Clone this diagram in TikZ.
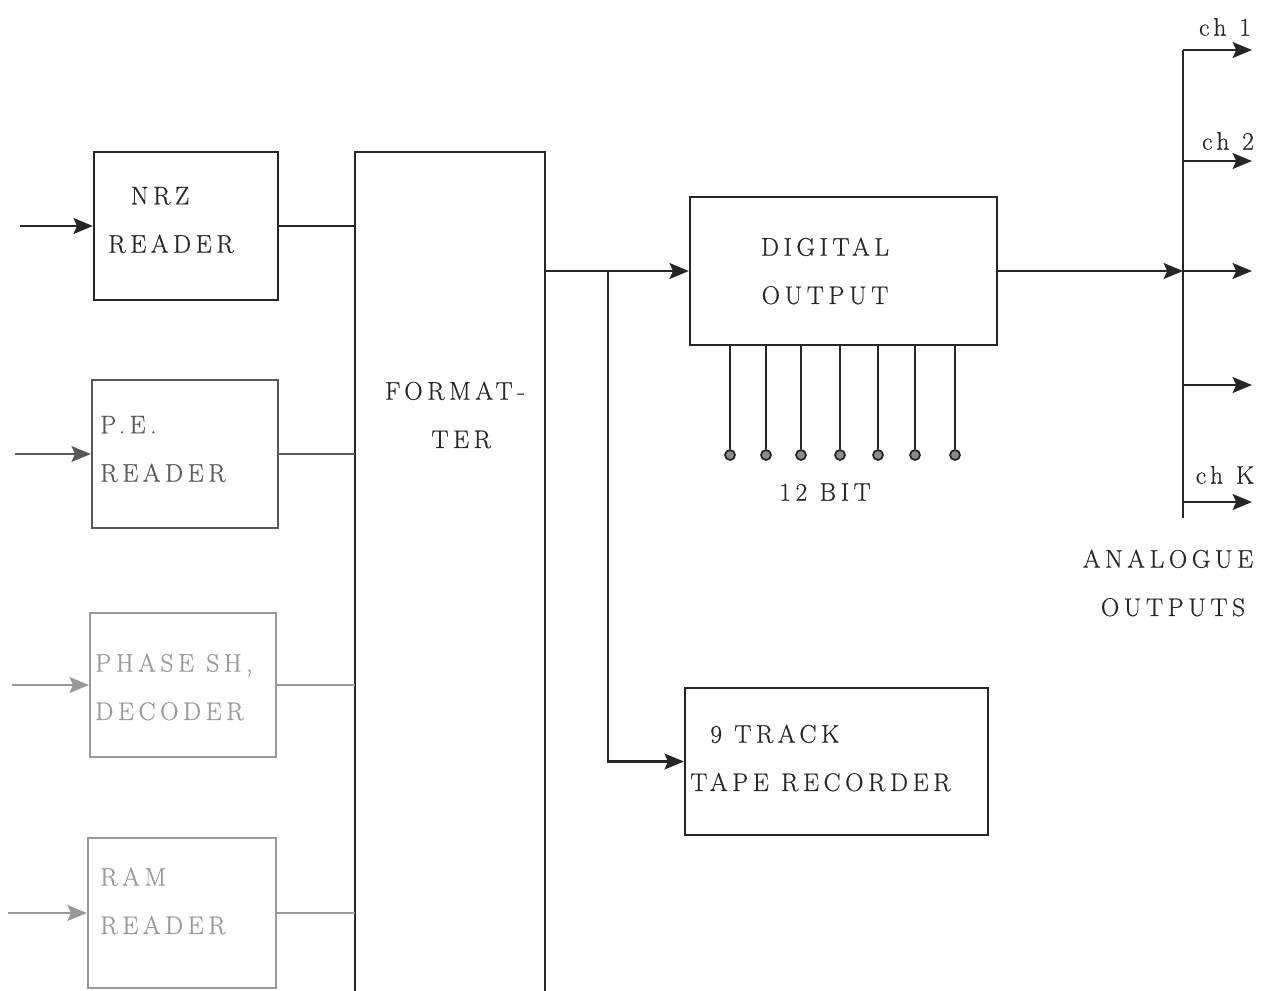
\documentclass[tikz,border=0pt]{standalone}
\usepackage{fontspec}
\setmainfont{Latin Modern Roman}[LetterSpace=18, FakeBold=0.6]
\usepackage{tikz}
\usetikzlibrary{arrows.meta}
\colorlet{ink}{black!85}
\colorlet{midink}{black!65}
\colorlet{faded}{black!40}
\tikzset{%
	box/.style 2 args = { draw, line width=1.3pt, minimum width=#1*0.02cm, minimum height=#2*0.02cm, inner sep=0pt },
	txt/.style = { anchor=west, align=left, inner sep=0pt },
	wire/.style = { line width=1.5pt },
	arr/.style = { wire, -{Stealth[length=11pt,width=9pt,inset=2pt]} },
	pinhead/.style = { circle, draw, line width=1pt, fill=black!45, inner sep=0pt, minimum size=0.2cm },
	pinwire/.style = { line width=1pt }
}

\begin{document}
\begin{tikzpicture}[x=0.02cm, y=-0.02cm, font=\fontsize{14.5}{27.5}\selectfont, color=ink]
	\useasboundingbox (0,0) rectangle (1279,991);

	% 1. readers
	\node[box={184}{148}] (nrz) at (186,226) {};
	\node[txt] (nrztxt) at (108,220) {\hspace*{0.45cm}NRZ\\READER};
	\node[box={186}{148}, midink] (pe) at (185,454) {};
	\node[txt, midink] (petxt) at (100,449) {P.\,E.\\READER};
	\node[box={186}{144}, faded] (phase) at (183,685) {};
	\node[txt, faded] (phasetxt) at (95,687) {PHASE SH,\\DECODER};
	\node[box={188}{150}, faded] (ram) at (182,913) {};
	\node[txt, faded] (ramtxt) at (100,901) {RAM\\READER};

	% inputs
	\coordinate (in1) at (20,226);
	\coordinate (in2) at (15,454);
	\coordinate (in3) at (12,685);
	\coordinate (in4) at (8,913);
	\draw[arr] (in1) -- (nrz.west);
	\draw[arr, midink] (in2) -- (pe.west);
	\draw[arr, faded] (in3) -- (phase.west);
	\draw[arr, faded] (in4) -- (ram.west);

	% 2. formatter (open at the bottom)
	\node[minimum width=190*0.02cm, minimum height=839*0.02cm, inner sep=0pt] (fmt) at (450,571.5) {};
	\draw[line width=1.3pt] (fmt.south west) -- (fmt.north west) -- (fmt.north east) -- (fmt.south east);
	\node[align=center, inner sep=0pt] (fmttxt) at (455,415) {FORMAT-\\\hspace*{0.25cm}TER};

	\draw[wire] (nrz.east) -- (nrz.east -| fmt.west);
	\draw[wire, midink] (pe.east) -- (pe.east -| fmt.west);
	\draw[wire, faded] (phase.east) -- (phase.east -| fmt.west);
	\draw[wire, faded] (ram.east) -- (ram.east -| fmt.west);

	% 3. digital output and tape
	\node[box={307}{148}] (dout) at (843.5,271) {};
	\node[align=center, inner sep=0pt] (douttxt) at (825,271) {DIGITAL\\OUTPUT};
	\node[box={303}{147}] (tape) at (836.5,761.5) {};
	\node[txt] (tapetxt) at (690,758) {\hspace*{0.4cm}9 TRACK\\TAPE RECORDER};

	\coordinate (split) at (608,271);
	\draw[arr] (fmt.east |- dout.west) -- (dout.west);
	\draw[arr] (split) |- (tape.west);

	% 12 bit pins
	\foreach \px [count=\i] in {730,766,801,840,878,915,955} {
		\node[pinhead] (pin\i) at (\px,455) {};
		\draw[pinwire] (pin\i |- dout.south) -- (pin\i);
	}
	\node (bits) at (825,492) {12 BIT};

	% 4. analogue outputs
	\coordinate (bustop) at (1183,50);
	\coordinate (busbot) at (1183,518);
	\draw[wire] (bustop) -- (busbot);
	\draw[arr] (dout.east) -- (dout.east -| bustop);
	\foreach \yy/\nm in {50/cha, 161/chb, 271/chc, 385/chd, 502/chk} {
		\coordinate (\nm) at (1252,\yy);
		\draw[arr] (bustop |- \nm) -- (\nm);
	}
	\node (labA) at (1225,27) {ch\enspace 1};
	\node (labB) at (1228,141) {ch\enspace 2};
	\node (labK) at (1225,475) {ch\enspace K};
	\node[align=center] (anout) at (1168,583) {ANALOGUE\\\hspace*{0.2cm}OUTPUTS};
\end{tikzpicture}
\end{document}
